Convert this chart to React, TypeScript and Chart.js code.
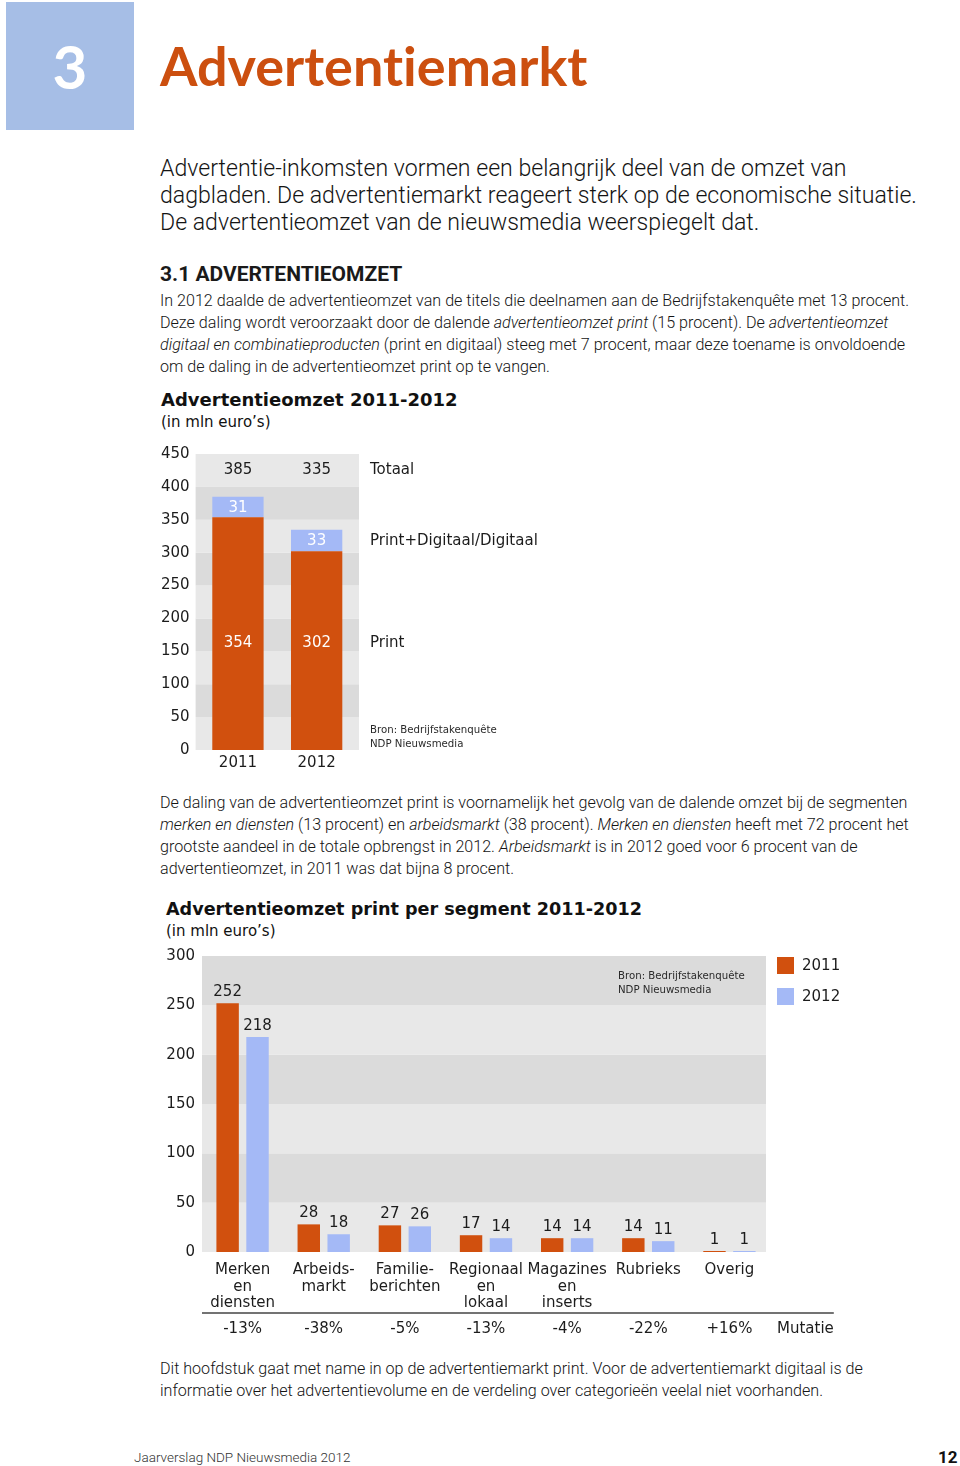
import React, { useEffect, useRef } from "react";
import { Chart, registerables } from "chart.js";

Chart.register(...registerables);

// ---------- data: chart 1 ----------
const years = ["2011", "2012"];
const printRevenue = [354, 302];
const digitalRevenue = [31, 33];
const totalRevenue = [385, 335];
const chart1Max = 450;
const chart1Step = 50;
const chart1SideLabels = ["Totaal", "Print+Digitaal/Digitaal", "Print"];

// ---------- data: chart 2 ----------
const segments = [
  ["Merken", "en", "diensten"],
  ["Arbeids-", "markt"],
  ["Familie-", "berichten"],
  ["Regionaal", "en", "lokaal"],
  ["Magazines", "en", "inserts"],
  ["Rubrieks"],
  ["Overig"],
];
const segment2011 = [252, 28, 27, 17, 14, 14, 1];
const segment2012 = [218, 18, 26, 14, 14, 11, 1];
const mutations = ["-13%", "-38%", "-5%", "-13%", "-4%", "-22%", "+16%"];
const mutationLabel = "Mutatie";
const chart2Max = 300;
const chart2Step = 50;
const legendYears = ["2011", "2012"];
const sourceLines = ["Bron: Bedrijfstakenquête", "NDP Nieuwsmedia"];

// ---------- styles ----------
const ORANGE = "#d1500e";
const BLUE = "#a4b9f6";
const BAND_LIGHT = "#e8e8e8";
const BAND_DARK = "#dbdbdb";
const TEXT = "#1c1c1c";
const CHART_FONT = '"DejaVu Sans", Verdana, sans-serif';
const BODY_FONT = 'Roboto, "Open Sans", sans-serif';

function drawBands(chart: any, step: number, extL: number, extR: number) {
  const { ctx, chartArea } = chart;
  const y = chart.scales.y;
  ctx.save();
  let i = 0;
  for (let v = y.min; v < y.max; v += step, i++) {
    const top = y.getPixelForValue(v + step);
    const bot = y.getPixelForValue(v);
    ctx.fillStyle = i % 2 === 0 ? BAND_LIGHT : BAND_DARK;
    ctx.fillRect(chartArea.left - extL, top, chartArea.width + extL + extR, bot - top);
  }
  ctx.restore();
}

function chart1Config(): any {
  const bandPlugin = {
    id: "bands1",
    beforeDatasetsDraw(chart: any) {
      drawBands(chart, chart1Step, 3, 3);
    },
  };
  const labelPlugin = {
    id: "labels1",
    afterDatasetsDraw(chart: any) {
      const { ctx, chartArea } = chart;
      const y = chart.scales.y;
      const printMeta = chart.getDatasetMeta(0);
      const digMeta = chart.getDatasetMeta(1);
      ctx.save();
      ctx.font = `15px ${CHART_FONT}`;
      ctx.textAlign = "center";
      ctx.textBaseline = "middle";
      const totalY = y.getPixelForValue(425);
      const printY = y.getPixelForValue(162);
      years.forEach((_, i) => {
        const p = printMeta.data[i];
        const d = digMeta.data[i];
        ctx.fillStyle = TEXT;
        ctx.fillText(String(totalRevenue[i]), p.x, totalY);
        ctx.fillStyle = "#ffffff";
        ctx.fillText(String(digitalRevenue[i]), d.x, (d.y + d.base) / 2 + 1);
        ctx.fillText(String(printRevenue[i]), p.x, printY);
      });
      // side labels
      const lx = chartArea.right + 14;
      const d2 = digMeta.data[1];
      ctx.textAlign = "left";
      ctx.fillStyle = TEXT;
      ctx.fillText(chart1SideLabels[0], lx, totalY);
      ctx.fillText(chart1SideLabels[1], lx, (d2.y + d2.base) / 2 + 1);
      ctx.fillText(chart1SideLabels[2], lx, printY);
      // source
      ctx.font = `10.2px ${CHART_FONT}`;
      ctx.fillStyle = "#2a2a2a";
      ctx.fillText(sourceLines[0], lx, chartArea.bottom - 20);
      ctx.fillText(sourceLines[1], lx, chartArea.bottom - 6);
      ctx.restore();
    },
  };
  const tickFont = { family: CHART_FONT, size: 15 };
  return {
    type: "bar",
    data: {
      labels: years,
      datasets: [
        { label: "Print", data: printRevenue, backgroundColor: ORANGE, barPercentage: 0.652, categoryPercentage: 1 },
        { label: "Print+Digitaal/Digitaal", data: digitalRevenue, backgroundColor: BLUE, barPercentage: 0.652, categoryPercentage: 1 },
      ],
    },
    options: {
      responsive: false,
      animation: false,
      devicePixelRatio: 1,
      layout: { padding: { top: 15.7, right: 194, bottom: 0, left: 0 } },
      plugins: { legend: { display: false }, tooltip: { enabled: false } },
      scales: {
        x: {
          stacked: true,
          grid: { display: false, drawTicks: false },
          border: { display: false },
          ticks: { padding: 4, color: TEXT, font: tickFont },
          afterFit: (s: any) => { s.height = 26; },
        },
        y: {
          stacked: true,
          min: 0,
          max: chart1Max,
          grid: { display: false, drawTicks: false },
          border: { display: false },
          ticks: { stepSize: chart1Step, padding: 9, color: TEXT, font: tickFont },
          afterFit: (s: any) => { s.width = 48.6; },
        },
      },
    },
    plugins: [bandPlugin, labelPlugin],
  };
}

function chart2Config(): any {
  const bandPlugin = {
    id: "bands2",
    beforeDatasetsDraw(chart: any) {
      drawBands(chart, chart2Step, 0, -4);
    },
  };
  const labelPlugin = {
    id: "labels2",
    afterDatasetsDraw(chart: any) {
      const { ctx, chartArea } = chart;
      const x = chart.scales.x;
      ctx.save();
      ctx.font = `15px ${CHART_FONT}`;
      ctx.textAlign = "center";
      ctx.textBaseline = "middle";
      ctx.fillStyle = TEXT;
      [0, 1].forEach((di) => {
        const meta = chart.getDatasetMeta(di);
        const vals = di === 0 ? segment2011 : segment2012;
        meta.data.forEach((bar: any, i: number) => {
          ctx.fillText(String(vals[i]), bar.x, bar.y - 11);
        });
      });
      // mutation row
      const lineY = chartArea.bottom + 61;
      const rowY = chartArea.bottom + 77;
      const mx = chartArea.right + 7;
      ctx.textAlign = "left";
      const mw = ctx.measureText(mutationLabel).width;
      ctx.strokeStyle = "#444";
      ctx.lineWidth = 1.5;
      ctx.beginPath();
      ctx.moveTo(chartArea.left, lineY);
      ctx.lineTo(mx + mw, lineY);
      ctx.stroke();
      ctx.fillText(mutationLabel, mx, rowY);
      ctx.textAlign = "center";
      mutations.forEach((m, i) => {
        ctx.fillText(m, x.getPixelForValue(i), rowY);
      });
      // legend
      ctx.textAlign = "left";
      legendYears.forEach((yr, i) => {
        const top = chartArea.top + 1 + i * 31;
        ctx.fillStyle = i === 0 ? ORANGE : BLUE;
        ctx.fillRect(mx, top, 17, 17);
        ctx.fillStyle = TEXT;
        ctx.fillText(yr, mx + 25, top + 9.5);
      });
      // source
      ctx.font = `10.2px ${CHART_FONT}`;
      ctx.fillStyle = "#2a2a2a";
      ctx.fillText(sourceLines[0], chartArea.left + 416, chartArea.top + 20);
      ctx.fillText(sourceLines[1], chartArea.left + 416, chartArea.top + 34);
      ctx.restore();
    },
  };
  const tickFont = { family: CHART_FONT, size: 15 };
  return {
    type: "bar",
    data: {
      labels: segments,
      datasets: [
        { label: legendYears[0], data: segment2011, backgroundColor: ORANGE, barPercentage: 0.75, categoryPercentage: 0.737 },
        { label: legendYears[1], data: segment2012, backgroundColor: BLUE, barPercentage: 0.75, categoryPercentage: 0.737 },
      ],
    },
    options: {
      responsive: false,
      animation: false,
      devicePixelRatio: 1,
      layout: { padding: { top: 15, right: 190, bottom: 0, left: 0 } },
      plugins: { legend: { display: false }, tooltip: { enabled: false } },
      scales: {
        x: {
          grid: { display: false, drawTicks: false },
          border: { display: false },
          ticks: { padding: 10, color: TEXT, font: { ...tickFont, lineHeight: 1.1 }, maxRotation: 0, autoSkip: false },
          afterFit: (s: any) => { s.height = 88; },
        },
        y: {
          min: 0,
          max: chart2Max,
          grid: { display: false, drawTicks: false },
          border: { display: false },
          ticks: { stepSize: chart2Step, padding: 7, color: TEXT, font: tickFont },
          afterFit: (s: any) => { s.width = 52; },
        },
      },
    },
    plugins: [bandPlugin, labelPlugin],
  };
}

function ChartBox({ left, top, width, height, build }: any) {
  const ref = useRef<HTMLCanvasElement>(null);
  useEffect(() => {
    const chart = new Chart(ref.current as HTMLCanvasElement, build());
    return () => chart.destroy();
  }, []);
  return (
    <div style={{ position: "absolute", left, top, width, height }}>
      <canvas ref={ref} width={width} height={height} style={{ width, height, display: "block" }} />
    </div>
  );
}

const abs = (left: number, top: number, extra: any = {}) => ({ position: "absolute" as const, left, top, whiteSpace: "nowrap" as const, ...extra });

const bodyStyle = { fontFamily: BODY_FONT, fontWeight: 300, fontSize: 16.1, lineHeight: "22px", color: "#141414" };
const chartTitleStyle = { fontFamily: CHART_FONT, fontWeight: 700, fontSize: 18, lineHeight: "22px", color: "#111" };
const chartSubStyle = { fontFamily: CHART_FONT, fontSize: 15, lineHeight: "22px", color: "#111" };

export default function App() {
  return (
    <div style={{ position: "absolute", left: 0, top: 0, width: 960, height: 1466, background: "#fff", overflow: "hidden" }}>
      {/* header */}
      <div style={{ position: "absolute", left: 6, top: 2, width: 128, height: 128, background: "#a6bee6" }} />
      <div style={abs(6, 2, { width: 128, height: 128, lineHeight: "128px", textAlign: "center", color: "#fff", fontFamily: "Lato, sans-serif", fontWeight: 700, fontSize: 60 })}>3</div>
      <div style={abs(160, 36, { color: "#cc4f0f", fontFamily: "Lato, sans-serif", fontWeight: 700, fontSize: 54, lineHeight: "60px", fontVariantLigatures: "none" })}>Advertentiemarkt</div>

      {/* intro */}
      <div style={abs(160, 154.5, { ...bodyStyle, fontSize: 23.1, lineHeight: "27px" })}>
        <div>Advertentie-inkomsten vormen een belangrijk deel van de omzet van</div>
        <div>dagbladen. De advertentiemarkt reageert sterk op de economische situatie.</div>
        <div>De advertentieomzet van de nieuwsmedia weerspiegelt dat.</div>
      </div>

      <div style={abs(160, 263, { fontFamily: BODY_FONT, fontWeight: 700, fontSize: 21, lineHeight: "22px", color: "#1a1a1a" })}>3.1 ADVERTENTIEOMZET</div>

      <div style={abs(160, 290, bodyStyle)}>
        <div>In 2012 daalde de advertentieomzet van de titels die deelnamen aan de Bedrijfstakenquête met 13 procent.</div>
        <div>Deze daling wordt veroorzaakt door de dalende <i>advertentieomzet print</i> (15 procent). De <i>advertentieomzet</i></div>
        <div><i>digitaal en combinatieproducten</i> (print en digitaal) steeg met 7 procent, maar deze toename is onvoldoende</div>
        <div>om de daling in de advertentieomzet print op te vangen.</div>
      </div>

      {/* chart 1 */}
      <div style={abs(161, 389, chartTitleStyle)}>Advertentieomzet 2011-2012</div>
      <div style={abs(161, 411, chartSubStyle)}>(in mln euro’s)</div>
      <ChartBox left={150} top={436} width={400} height={340} build={chart1Config} />

      <div style={abs(160, 792, bodyStyle)}>
        <div>De daling van de advertentieomzet print is voornamelijk het gevolg van de dalende omzet bij de segmenten</div>
        <div><i>merken en diensten</i> (13 procent) en <i>arbeidsmarkt</i> (38 procent). <i>Merken en diensten</i> heeft met 72 procent het</div>
        <div>grootste aandeel in de totale opbrengst in 2012. <i>Arbeidsmarkt</i> is in 2012 goed voor 6 procent van de</div>
        <div>advertentieomzet, in 2011 was dat bijna 8 procent.</div>
      </div>

      {/* chart 2 */}
      <div style={abs(166, 898, { ...chartTitleStyle, fontSize: 17.6 })}>Advertentieomzet print per segment 2011-2012</div>
      <div style={abs(166, 920, chartSubStyle)}>(in mln euro’s)</div>
      <ChartBox left={150} top={940} width={810} height={400} build={chart2Config} />

      <div style={abs(160, 1358, bodyStyle)}>
        <div>Dit hoofdstuk gaat met name in op de advertentiemarkt print. Voor de advertentiemarkt digitaal is de</div>
        <div>informatie over het advertentievolume en de verdeling over categorieën veelal niet voorhanden.</div>
      </div>

      {/* footer */}
      <div style={abs(134, 1447, { fontFamily: BODY_FONT, fontWeight: 300, fontSize: 13.5, lineHeight: "20px", color: "#333" })}>Jaarverslag NDP Nieuwsmedia 2012</div>
      <div style={abs(938, 1446, { fontFamily: BODY_FONT, fontWeight: 700, fontSize: 17, lineHeight: "22px", color: "#111" })}>12</div>
    </div>
  );
}
